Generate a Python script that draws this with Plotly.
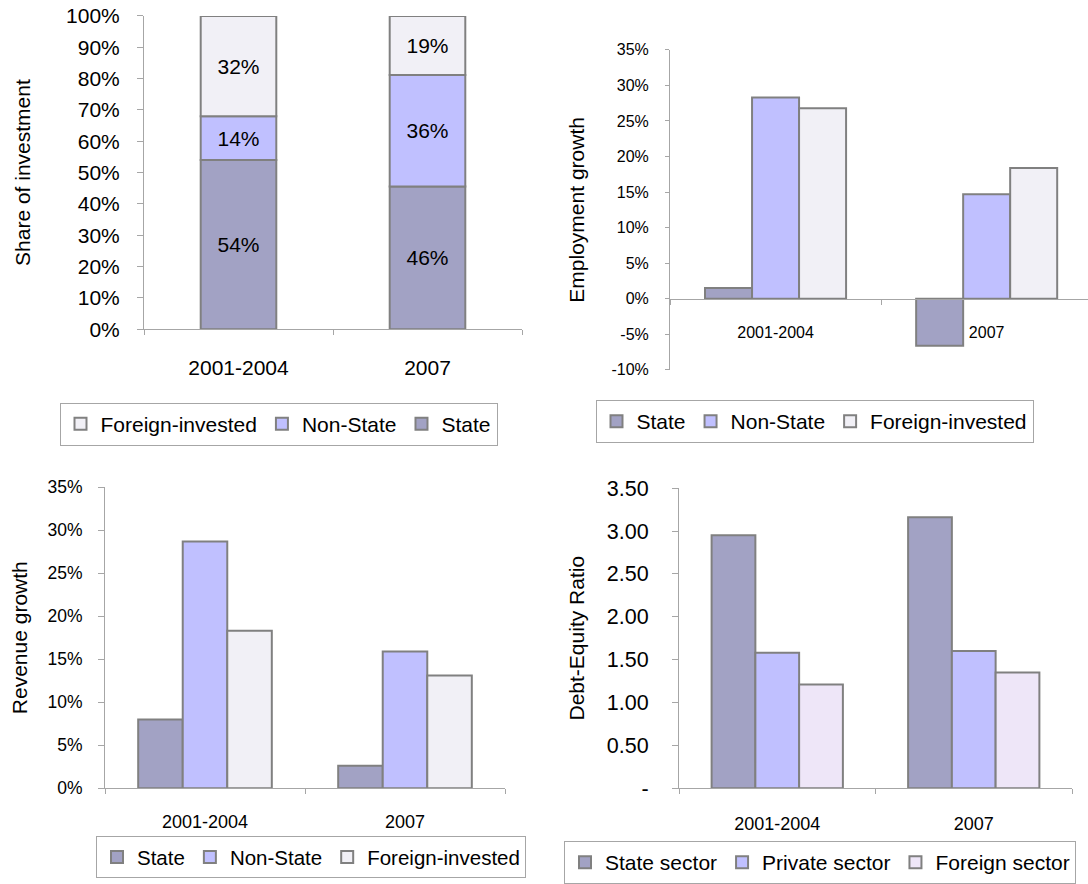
import plotly.graph_objects as go

W, H = 1088, 884
FONT = "Liberation Sans, Arial, sans-serif"

periods = ["2001-2004", "2007"]

# Panel 1: share of investment (%), as labelled on the bars
inv_state = [54, 46]
inv_nonstate = [14, 36]
inv_foreign = [32, 19]
inv_ticks = [0, 10, 20, 30, 40, 50, 60, 70, 80, 90, 100]

# Panel 2: employment growth (%)
emp_state = [1.5, -6.6]
emp_nonstate = [28.3, 14.7]
emp_foreign = [26.8, 18.4]
emp_ticks = [-10, -5, 0, 5, 10, 15, 20, 25, 30, 35]

# Panel 3: revenue growth (%)
rev_state = [8.0, 2.6]
rev_nonstate = [28.7, 15.9]
rev_foreign = [18.3, 13.1]
rev_ticks = [0, 5, 10, 15, 20, 25, 30, 35]

# Panel 4: debt-equity ratio
de_state = [2.95, 3.16]
de_private = [1.58, 1.60]
de_foreign = [1.21, 1.35]
de_ticks = [0, 0.5, 1.0, 1.5, 2.0, 2.5, 3.0, 3.5]

C_STATE = "#A2A2C4"
C_NON = "#C0C0FF"
C_FOR = "#F1F0F6"
C_FOR_SECTOR = "#EEE6F8"
EDGE = "#808080"
AXIS = "#A6A6A6"
LEG_BORDER = "#A6A6A6"


def xd(a, b):
    return [a / W, b / W]


def yd(top, bottom):
    return [1 - bottom / H, 1 - top / H]


fig = go.Figure()

# ---------- Panel 1: 100% stacked ----------
totals = [s + n + f for s, n, f in zip(inv_state, inv_nonstate, inv_foreign)]
sh_state = [100 * v / t for v, t in zip(inv_state, totals)]
sh_non = [100 * v / t for v, t in zip(inv_nonstate, totals)]
sh_for = [100 * v / t for v, t in zip(inv_foreign, totals)]
base_non = sh_state
base_for = [a + b for a, b in zip(sh_state, sh_non)]

for name, vals, base, raw, col in [
    ("State", sh_state, [0, 0], inv_state, C_STATE),
    ("Non-State", sh_non, base_non, inv_nonstate, C_NON),
    ("Foreign-invested", sh_for, base_for, inv_foreign, C_FOR),
]:
    fig.add_trace(go.Bar(
        x=periods, y=vals, base=base, name=name,
        text=[f"{v}%" for v in raw], textposition="inside",
        insidetextanchor="middle", textangle=0, constraintext="none",
        textfont=dict(size=21, color="#000000", family=FONT),
        marker=dict(color=col, line=dict(color=EDGE, width=2)),
        width=0.4, offset=-0.2,
        xaxis="x", yaxis="y", legend="legend", hoverinfo="skip",
    ))

# ---------- grouped panels ----------
BW = 0.2227


def grouped(series, xa, ya, leg):
    for i, (name, vals, col) in enumerate(series):
        fig.add_trace(go.Bar(
            x=periods, y=vals, name=name,
            marker=dict(color=col, line=dict(color=EDGE, width=2)),
            width=BW, offset=-1.5 * BW + i * BW,
            xaxis=xa, yaxis=ya, legend=leg, hoverinfo="skip",
        ))


grouped([("State", emp_state, C_STATE), ("Non-State", emp_nonstate, C_NON),
         ("Foreign-invested", emp_foreign, C_FOR)], "x2", "y2", "legend2")
grouped([("State", rev_state, C_STATE), ("Non-State", rev_nonstate, C_NON),
         ("Foreign-invested", rev_foreign, C_FOR)], "x3", "y3", "legend3")
grouped([("State sector", de_state, C_STATE), ("Private sector", de_private, C_NON),
         ("Foreign sector", de_foreign, C_FOR_SECTOR)], "x4", "y4", "legend4")

# ---------- axes ----------
def xaxis(domain, size, standoff, rng=(-0.5, 1.5), **kw):
    d = dict(domain=domain, range=list(rng), type="category",
             showline=True, linecolor=AXIS, linewidth=1,
             ticks="outside", tickson="boundaries", ticklen=5, tickcolor=AXIS,
             tickfont=dict(size=size, color="#000000", family=FONT),
             ticklabelstandoff=standoff, showgrid=False, zeroline=False,
             automargin=False, fixedrange=True)
    d.update(kw)
    return d


def yaxis(domain, rng, ticks, text, size, ticklen, standoff, title, tstand, **kw):
    d = dict(domain=domain, range=list(rng), tickmode="array",
             tickvals=ticks, ticktext=text,
             showline=True, linecolor=AXIS, linewidth=1,
             ticks="outside", ticklen=ticklen, tickcolor=AXIS,
             tickfont=dict(size=size, color="#000000", family=FONT),
             ticklabelstandoff=standoff, showgrid=False, zeroline=False,
             title=dict(text=title, font=dict(size=21, color="#000000", family=FONT),
                        standoff=tstand),
             automargin=False, fixedrange=True)
    d.update(kw)
    return d


y1_dom = yd(16, 330)
y2_dom = yd(50, 370.7)
y3_dom = yd(488.3, 790)
y4_dom = yd(489.3, 790)

emp_rng = (emp_ticks[0], emp_ticks[-1])
zero_pos = y2_dom[0] + (0 - emp_rng[0]) / (emp_rng[1] - emp_rng[0]) * (y2_dom[1] - y2_dom[0])

fig.update_layout(
    width=W, height=H, template="none",
    margin=dict(l=0, r=0, t=0, b=0),
    paper_bgcolor="white", plot_bgcolor="rgba(0,0,0,0)",
    barmode="overlay",
    font=dict(family=FONT, color="#000000"),
    xaxis=xaxis(xd(144, 522), 21, 20, anchor="y"),
    yaxis=yaxis(y1_dom, (0, 100), inv_ticks, [f"{t}%" for t in inv_ticks],
                21, 6, 13, "Share of investment", 29.5, anchor="x"),
    xaxis2=xaxis(xd(670, 1088), 16, 19, rng=(-0.5, 1.48), anchor="free", position=zero_pos),
    yaxis2=yaxis(y2_dom, emp_rng, emp_ticks, [f"{t}%" for t in emp_ticks],
                 16, 4, 13, "Employment growth", 21, anchor="x2"),
    xaxis3=xaxis(xd(105, 505), 18, 17, anchor="y3"),
    yaxis3=yaxis(y3_dom, (0, 35), rev_ticks, [f"{t}%" for t in rev_ticks],
                 17.5, 6, 12, "Revenue growth", 13.5, anchor="x3"),
    xaxis4=xaxis(xd(679, 1072), 18, 19, anchor="y4"),
    yaxis4=yaxis(y4_dom, (0, 3.5), de_ticks, ["-" if t == 0 else f"{t:.2f}" for t in de_ticks],
                 21.5, 6, 19, "Debt-Equity Ratio", 15.5, anchor="x4"),
    legend=dict(x=278.5 / W, y=1 - 425 / H, xanchor="center", yanchor="middle",
                orientation="h", traceorder="reversed", bordercolor=LEG_BORDER,
                borderwidth=1, bgcolor="white", font=dict(size=21, family=FONT)),
    legend2=dict(x=814.5 / W, y=1 - 422.5 / H, xanchor="center", yanchor="middle",
                 orientation="h", traceorder="normal", bordercolor=LEG_BORDER,
                 borderwidth=1, bgcolor="white", font=dict(size=21, family=FONT)),
    legend3=dict(x=311 / W, y=1 - 859 / H, xanchor="center", yanchor="middle",
                 orientation="h", traceorder="normal", bordercolor=LEG_BORDER,
                 borderwidth=1, bgcolor="white", font=dict(size=20.5, family=FONT)),
    legend4=dict(x=820 / W, y=1 - 843 / H, xanchor="center", yanchor="top",
                 orientation="h", traceorder="normal", bordercolor=LEG_BORDER,
                 borderwidth=1, bgcolor="white", font=dict(size=21, family=FONT)),
)

fig.write_html("out.html")
